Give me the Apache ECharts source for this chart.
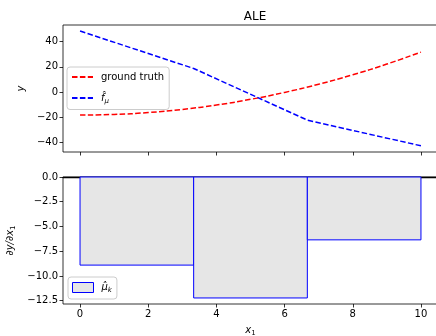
<!DOCTYPE html>
<html>
<head>
<meta charset="utf-8">
<script src="https://cdn.jsdelivr.net/npm/echarts@6/dist/echarts.min.js"></script>
<style>html,body{margin:0;padding:0;background:#fff}#c{width:436px;height:336px}</style>
</head>
<body>
<div id="c"></div>
<script>
// ---- data ----
var xTicks = [0, 2, 4, 6, 8, 10];
var yTicksTop = [-40, -20, 0, 20, 40];
var yTicksBottom = [0, -2.5, -5, -7.5, -10, -12.5];
var truthX = [0, 1, 2, 3, 4, 5, 6, 7, 8, 9, 10];
var truthY = [-18.3, -17.8, -16.3, -13.8, -10.3, -5.8, -0.3, 6.2, 13.7, 22.2, 31.7];
var aleX = [0, 3.333, 6.667, 10];
var aleY = [48.4, 18.7, -22.3, -42.7];
var binEdges = [0, 3.333, 6.667, 10];
var binValues = [-8.9, -12.22, -6.35];

function minus(s){ return String(s).replace('-', '\u2212'); }

var truthData = truthX.map(function(x, i){ return [x, truthY[i]]; });
var aleData = aleX.map(function(x, i){ return [x, aleY[i]]; });
var barData = binValues.map(function(v, i){ return [binEdges[i], binEdges[i+1], v]; });

var font = 'DejaVu Sans';
var txt = {fontFamily: font, fontSize: 10, color: '#000'};
var tickStyle = {color: '#000', width: 0.8};

var chart = echarts.init(document.getElementById('c'), null, {renderer: 'canvas'});
var option = {
  animation: false,
  backgroundColor: '#fff',
  textStyle: {fontFamily: font},
  title: {
    text: 'ALE', left: 250, top: 6, textAlign: 'center',
    textStyle: {fontFamily: font, fontSize: 12, fontWeight: 'normal', color: '#000'}
  },
  grid: [
    {left: 63, top: 25, width: 375, height: 127, show: true, borderColor: '#000', borderWidth: 0.8,
     backgroundColor: 'transparent', containLabel: false, outerBoundsMode: 'none'},
    {left: 63, top: 177, width: 375, height: 127, show: true, borderColor: '#000', borderWidth: 0.8,
     backgroundColor: 'transparent', containLabel: false, outerBoundsMode: 'none'}
  ],
  xAxis: [
    {type: 'value', gridIndex: 0, min: -0.5, max: 10.5, position: 'bottom',
     axisLine: {show: false, onZero: false}, splitLine: {show: false},
     axisTick: {show: true, inside: false, length: 3.5, customValues: xTicks, lineStyle: tickStyle},
     axisLabel: {show: false, customValues: xTicks}},
    {type: 'value', gridIndex: 1, min: -0.5, max: 10.5, position: 'bottom',
     axisLine: {show: false, onZero: false}, splitLine: {show: false},
     axisTick: {show: true, inside: false, length: 3.5, customValues: xTicks, lineStyle: tickStyle},
     axisLabel: Object.assign({show: true, margin: 5, customValues: xTicks, formatter: function(v){ return minus(v); }}, txt),
     name: '{i|x}{s|1}', nameLocation: 'middle', nameGap: 20,
     nameTextStyle: {rich: {i: {fontFamily: font, fontSize: 10, fontStyle: 'italic', color: '#000'},
                            s: {fontFamily: font, fontSize: 7, color: '#000', padding: [6, 0, 0, 0]}}}},
    {type: 'value', gridIndex: 1, position: 'top', min: -0.5, max: 10.5,
     axisLine: {show: true, onZero: false, lineStyle: {color: '#000', width: 1.3}},
     axisTick: {show: false}, axisLabel: {show: false}, splitLine: {show: false}}
  ],
  yAxis: [
    {type: 'value', gridIndex: 0, min: -47.6, max: 53.2, position: 'left',
     axisLine: {show: false, onZero: false}, splitLine: {show: false},
     axisTick: {show: true, inside: false, length: 3.5, customValues: yTicksTop, lineStyle: tickStyle},
     axisLabel: Object.assign({show: true, margin: 5, customValues: yTicksTop, formatter: function(v){ return minus(v); }}, txt),
     name: 'y', nameLocation: 'middle', nameGap: 37, nameRotate: 90,
     nameTextStyle: {fontFamily: font, fontSize: 10, fontStyle: 'italic', color: '#000'}},
    {type: 'value', gridIndex: 1, min: -12.83, max: 0, position: 'left',
     axisLine: {show: false, onZero: false}, splitLine: {show: false},
     axisTick: {show: true, inside: false, length: 3.5, customValues: yTicksBottom, lineStyle: tickStyle},
     axisLabel: Object.assign({show: true, margin: 5, customValues: yTicksBottom, formatter: function(v){ return minus(v.toFixed(1)); }}, txt),
     name: '{n|\u2202y/\u2202x}{s|1}', nameLocation: 'middle', nameGap: 44, nameRotate: 90,
     nameTextStyle: {rich: {n: {fontFamily: font, fontSize: 10, fontStyle: 'italic', color: '#000'},
                            s: {fontFamily: font, fontSize: 7, color: '#000', padding: [6, 0, 0, 0]}}}}
  ],
  legend: [
    {left: 67, top: 67, orient: 'vertical', itemWidth: 21, itemHeight: 10, itemGap: 11,
     padding: [5, 5, 5, 4], backgroundColor: 'rgba(255,255,255,0.8)', borderColor: '#cccccc', borderWidth: 1, borderRadius: 3,
     itemStyle: {opacity: 0},
     data: ['ground truth', 'fhat'],
     formatter: function(n){ return n === 'fhat' ? '{i|f\u0302}{s|\u03bc}' : n; },
     textStyle: {fontFamily: font, fontSize: 10, color: '#000', padding: [0, 0, 0, 3],
                 rich: {i: {fontFamily: font, fontSize: 10, fontStyle: 'italic', color: '#000'},
                        s: {fontFamily: font, fontSize: 7, fontStyle: 'italic', color: '#000', padding: [6, 0, 0, 0]}}}},
    {left: 68, top: 277, orient: 'vertical', itemWidth: 21, itemHeight: 10,
     padding: [5, 5, 5, 4], backgroundColor: 'rgba(255,255,255,0.8)', borderColor: '#cccccc', borderWidth: 1, borderRadius: 3,
     itemStyle: {color: '#e6e6e6', borderColor: '#0000ff', borderWidth: 1},
     data: [{name: 'muk', icon: 'rect'}],
     formatter: function(){ return '{i|\u03bc\u0302}{s|k}'; },
     textStyle: {fontFamily: font, fontSize: 10, color: '#000', padding: [0, 0, 0, 3],
                 rich: {i: {fontFamily: font, fontSize: 10, fontStyle: 'italic', color: '#000'},
                        s: {fontFamily: font, fontSize: 7, fontStyle: 'italic', color: '#000', padding: [6, 0, 0, 0]}}}}
  ],
  series: [
    {name: 'ground truth', type: 'line', xAxisIndex: 0, yAxisIndex: 0, data: truthData, smooth: true,
     symbol: 'none', color: '#ff0000', lineStyle: {color: '#ff0000', width: 1.5, type: [5.5, 2.4]}},
    {name: 'fhat', type: 'line', xAxisIndex: 0, yAxisIndex: 0, data: aleData,
     symbol: 'none', color: '#0000ff', lineStyle: {color: '#0000ff', width: 1.5, type: [5.5, 2.4]}},
    {name: 'muk', type: 'custom', xAxisIndex: 1, yAxisIndex: 1, data: barData,
     encode: {x: [0, 1], y: 2},
     itemStyle: {color: '#e6e6e6', borderColor: '#0000ff', borderWidth: 1},
     renderItem: function(params, api){
       var p0 = api.coord([api.value(0), 0]);
       var p1 = api.coord([api.value(1), api.value(2)]);
       return {type: 'rect', shape: {x: p0[0], y: p0[1], width: p1[0] - p0[0], height: p1[1] - p0[1]},
               style: {fill: '#e6e6e6', stroke: '#0000ff', lineWidth: 1}};
     }}
  ]
};
chart.setOption(option);
</script>
</body>
</html>
